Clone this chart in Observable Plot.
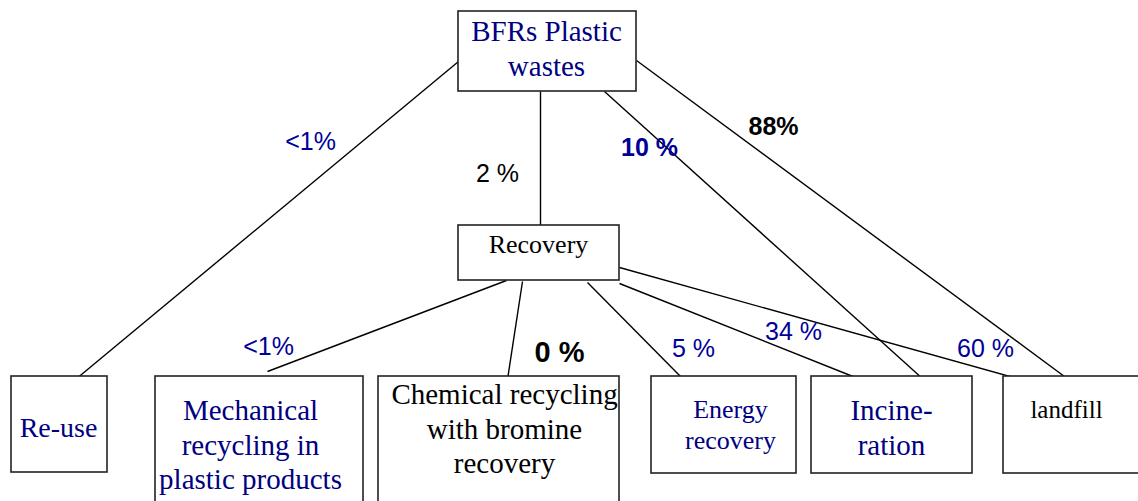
<!DOCTYPE html>
<html>
<head>
<meta charset="utf-8">
<script src="https://cdn.jsdelivr.net/npm/d3@7"></script>
<script src="https://cdn.jsdelivr.net/npm/@observablehq/plot@0.6"></script>
<style>
  html, body { margin: 0; padding: 0; background: #fff; }
  #chart svg { display: block; }
</style>
</head>
<body>
<div id="chart"></div>
<script>
// ---- data ----
const nodeNames = [
  "BFRs Plastic\nwastes",
  "Recovery",
  "Re-use",
  "Mechanical\nrecycling in\nplastic products",
  "Chemical recycling\nwith bromine\nrecovery",
  "Energy\nrecovery",
  "Incine-\nration",
  "landfill"
];
const flowFrom = [0, 0, 0, 0, 1, 1, 1, 1, 1];
const flowTo   = [2, 1, 6, 7, 3, 4, 5, 6, 7];
const flowShares = ["<1%", "2 %", "10 %", "88%", "<1%", "0 %", "5 %", "34 %", "60 %"];

// ---- layout ----
const boxLayout = [
  [458, 11, 636, 91],
  [458, 225, 619, 280],
  [11, 376, 107, 472],
  [155, 376, 363, 512],
  [378, 376, 619, 512],
  [651, 376, 796, 473],
  [811, 376, 972, 473],
  [1003, 376, 1150, 473]
];
const nodeTextLayout = [
  {x: 546, y: 47, size: 29, color: "#000080"},
  {x: 538, y: 243, size: 26, color: "#000"},
  {x: 58, y: 426, size: 28, color: "#000080"},
  {x: 250, y: 443, size: 29, color: "#000080"},
  {x: 504, y: 427, size: 29, color: "#000"},
  {x: 730, y: 423, size: 26, color: "#000080"},
  {x: 891, y: 426, size: 29, color: "#000080"},
  {x: 1066, y: 408, size: 25, color: "#000"}
];
const linkLayout = [
  [458, 61, 75, 379],
  [540, 91, 540, 225],
  [604, 91, 923, 379],
  [636, 60, 1068, 379],
  [506, 280, 267, 371],
  [522, 281, 507, 379],
  [587, 282, 683, 379],
  [619, 283, 860, 379],
  [619, 267, 1020, 379]
];
const labelLayout = [
  {x: 310, y: 141, size: 25, bold: false, color: "#000099"},
  {x: 497, y: 173, size: 25, bold: false, color: "#000"},
  {x: 649, y: 147, size: 25, bold: true, color: "#000099"},
  {x: 773, y: 126, size: 25, bold: true, color: "#000"},
  {x: 268, y: 346, size: 25, bold: false, color: "#000099"},
  {x: 559, y: 352, size: 29, bold: true, color: "#000"},
  {x: 693, y: 348, size: 25, bold: false, color: "#000099"},
  {x: 793, y: 331, size: 25, bold: false, color: "#000099"},
  {x: 985, y: 348, size: 25, bold: false, color: "#000099"}
];

// ---- tables built from the arrays ----
const nodes = nodeNames.map((name, i) => ({
  name,
  x1: boxLayout[i][0], y1: boxLayout[i][1], x2: boxLayout[i][2], y2: boxLayout[i][3],
  tx: nodeTextLayout[i].x, ty: nodeTextLayout[i].y,
  size: nodeTextLayout[i].size, color: nodeTextLayout[i].color
}));
const flows = flowShares.map((share, i) => ({
  from: nodeNames[flowFrom[i]], to: nodeNames[flowTo[i]], share,
  x1: linkLayout[i][0], y1: linkLayout[i][1], x2: linkLayout[i][2], y2: linkLayout[i][3],
  lx: labelLayout[i].x, ly: labelLayout[i].y,
  size: labelLayout[i].size, bold: labelLayout[i].bold, color: labelLayout[i].color
}));

const W = 1138, H = 501;
const marks = [
  Plot.link(flows, {x1: "x1", y1: "y1", x2: "x2", y2: "y2", stroke: "#000", strokeWidth: 1.4}),
  Plot.rect(nodes, {x1: "x1", y1: "y1", x2: "x2", y2: "y2", fill: "#fff", stroke: "#222", strokeWidth: 1.6})
];
nodes.forEach(n => {
  marks.push(Plot.text([n], {
    x: "tx", y: "ty", text: "name", fill: n.color, fontSize: n.size,
    fontFamily: "Liberation Serif, Times New Roman, serif", lineHeight: 1.2,
    textAnchor: "middle", lineAnchor: "middle"
  }));
});
flows.forEach(f => {
  marks.push(Plot.text([f], {
    x: "lx", y: "ly", text: "share", fill: f.color, fontSize: f.size,
    fontWeight: f.bold ? "bold" : "normal",
    fontFamily: "Liberation Sans, Arial, sans-serif",
    textAnchor: "middle", lineAnchor: "middle"
  }));
});

const chart = Plot.plot({
  width: W, height: H,
  margin: 0,
  x: {domain: [0, W], range: [0, W], axis: null},
  y: {domain: [0, H], range: [0, H], axis: null},
  style: {background: "#fff"},
  marks
});
document.getElementById("chart").appendChild(chart);
</script>
</body>
</html>
